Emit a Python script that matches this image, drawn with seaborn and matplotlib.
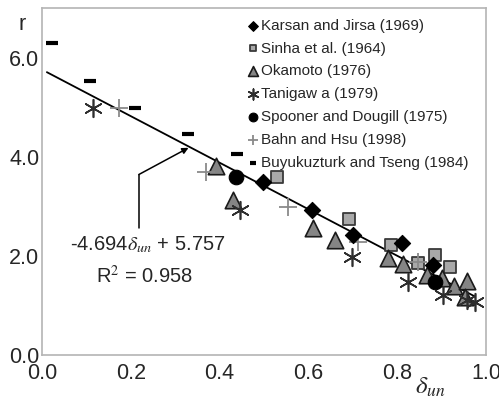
import matplotlib
matplotlib.use("Agg")
import matplotlib.pyplot as plt
import seaborn as sns
import numpy as np
import pandas as pd

# Experimental data: normalised unloading displacement vs. ratio r
karsan_x = [0.497, 0.609, 0.701, 0.811, 0.881]
karsan_y = [3.49, 2.93, 2.42, 2.26, 1.82]

sinha_x = [0.530, 0.692, 0.787, 0.847, 0.885, 0.919]
sinha_y = [3.60, 2.75, 2.22, 1.86, 2.02, 1.78]

okamoto_x = [0.391, 0.431, 0.611, 0.661, 0.780, 0.814, 0.867, 0.901, 0.928, 0.957, 0.953]
okamoto_y = [3.82, 3.13, 2.57, 2.32, 1.96, 1.84, 1.62, 1.56, 1.39, 1.49, 1.17]

tanigawa_x = [0.115, 0.447, 0.699, 0.825, 0.903, 0.957, 0.975]
tanigawa_y = [4.99, 2.93, 1.98, 1.47, 1.21, 1.11, 1.07]

spooner_x = [0.438, 0.885]
spooner_y = [3.60, 1.47]

bahn_x = [0.173, 0.369, 0.555, 0.712, 0.847]
bahn_y = [4.99, 3.70, 2.99, 2.28, 1.88]

buyuk_x = [0.022, 0.108, 0.209, 0.328, 0.440]
buyuk_y = [6.30, 5.52, 4.99, 4.46, 4.06]

# Linear fit r = slope * delta_un + intercept
slope = -4.694
intercept = 5.757
r_squared = 0.958
fit_x = [0.011, 0.975]

x_ticks = [0.0, 0.2, 0.4, 0.6, 0.8, 1.0]
y_ticks = [0.0, 2.0, 4.0, 6.0]

sns.set_style("white")
plt.rcParams["font.family"] = ["Liberation Sans", "DejaVu Sans"]
plt.rcParams["mathtext.fontset"] = "stix"

fig = plt.figure(figsize=(4.99, 4.09), dpi=100)
ax = fig.add_axes([42 / 499, 1 - 355 / 409, 444 / 499, 347 / 409])

# regression line
fit_df = pd.DataFrame({"x": fit_x, "y": [slope * v + intercept for v in fit_x]})
sns.lineplot(data=fit_df, x="x", y="y", ax=ax, color="black", linewidth=1.3, zorder=2)

handles = {}

def scatter(xs, ys, label, **kw):
    df = pd.DataFrame({"x": xs, "y": ys})
    sns.scatterplot(data=df, x="x", y="y", ax=ax, label=label, legend=False, zorder=3, **kw)
    handles[label] = ax.collections[-1]

scatter(sinha_x, sinha_y, "Sinha et al. (1964)", marker="s", s=65,
        color="#a9a9a9", edgecolor="#3a3a3a", linewidth=1.3)
scatter(okamoto_x, okamoto_y, "Okamoto (1976)", marker="^", s=140,
        color="#858585", edgecolor="#1a1a1a", linewidth=1.2)
scatter(bahn_x, bahn_y, "Bahn and Hsu (1998)", marker="+", s=160,
        color="#8a8a8a", linewidth=1.3)
scatter(karsan_x, karsan_y, "Karsan and Jirsa (1969)", marker="D", s=68,
        color="black", edgecolor="black", linewidth=0.8)
scatter(tanigawa_x, tanigawa_y, "Tanigawa (1979)", marker=(6, 2, 0), s=160,
        color="#2e2e2e", linewidth=1.2)
scatter(spooner_x, spooner_y, "Spooner and Dougill (1975)", marker="o", s=110,
        color="black", edgecolor="black", linewidth=0.8)
scatter(buyuk_x, buyuk_y, "Buyukuzturk and Tseng (1984)", marker="_", s=65,
        color="black", linewidth=3.0)

order = ["Karsan and Jirsa (1969)", "Sinha et al. (1964)", "Okamoto (1976)",
         "Tanigawa (1979)", "Spooner and Dougill (1975)", "Bahn and Hsu (1998)",
         "Buyukuzturk and Tseng (1984)"]
leg_labels = ["Karsan and Jirsa (1969)", "Sinha et al. (1964)", "Okamoto (1976)",
              "Tanigaw a (1979)", "Spooner and Dougill (1975)", "Bahn and Hsu (1998)",
              "Buyukuzturk and Tseng (1984)"]
leg = ax.legend([handles[k] for k in order], leg_labels, loc="upper left",
                bbox_to_anchor=(238 / 499, 1 - 11 / 409), bbox_transform=fig.transFigure,
                frameon=False, fontsize=11, markerscale=0.6, handletextpad=0.1,
                handlelength=0.9, labelspacing=0.58, borderpad=0.0)

# fit annotation with leader line
ax.plot([0.218, 0.218], [2.57, 3.64], color="black", linewidth=1.1)
ax.annotate("", xy=(0.33, 4.18), xytext=(0.218, 3.64),
            arrowprops=dict(arrowstyle="-|>", color="black", linewidth=1.1,
                            mutation_scale=9, shrinkA=0, shrinkB=0))
ax.text(0.238, 2.22, r"-4.694$\delta_{un}$ + 5.757", ha="center", va="center", fontsize=14.5)
ax.text(0.232, 1.60, r"R$^2$ = 0.958", ha="center", va="center", fontsize=14.5)

ax.set_xlim(0.0, 1.0)
ax.set_ylim(0.0, 7.0)
ax.set_xticks(x_ticks)
ax.set_xticklabels([f"{v:.1f}" for v in x_ticks])
ax.set_yticks(y_ticks)
ax.set_yticklabels([f"{v:.1f}" for v in y_ticks])
ax.tick_params(direction="in", length=5, width=0.8, color="#a0a0a0",
               labelsize=15.5, pad=2)
ax.tick_params(axis="x", pad=6)
ax.set_xlabel("")
ax.set_ylabel("")
for sp in ax.spines.values():
    sp.set_color("#b4b4b4")
    sp.set_linewidth(1.2)

fig.text(22 / 499, 1 - 25 / 409, "r", ha="center", va="center", fontsize=15.5)
fig.text(430 / 499, 1 - 387 / 409, r"$\delta_{un}$", ha="center", va="center", fontsize=18)

fig.savefig("out.png", dpi=100)
